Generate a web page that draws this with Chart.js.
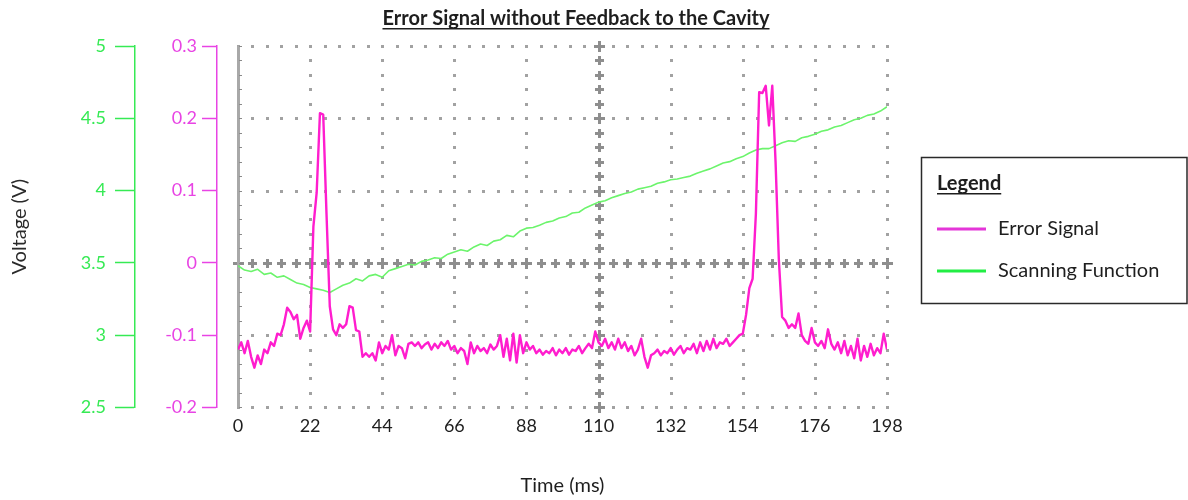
<!DOCTYPE html>
<html>
<head>
<meta charset="utf-8">
<title>Error Signal without Feedback to the Cavity</title>
<script src="https://cdn.jsdelivr.net/npm/chart.js@4.4.1/dist/chart.umd.min.js"></script>
<style>
  html, body { margin: 0; padding: 0; background: #fff; }
  #wrap { width: 1188px; height: 500px; }
</style>
</head>
<body>
<div id="wrap"><canvas id="scopeChart" width="1188" height="500"></canvas></div>
<script>
const FONT = 'Lato, "Open Sans", sans-serif';
const TITLE = 'Error Signal without Feedback to the Cavity';

// x axis (ms) and graticule ticks
const timeTicks = [0, 22, 44, 66, 88, 110, 132, 154, 176, 198];
const errorTicks = [-0.2, -0.1, 0, 0.1, 0.2, 0.3];
const scanTicks = [2.5, 3, 3.5, 4, 4.5, 5];

// error signal, sampled every 1 ms (0..198)
const errorTime = Array.from({ length: 199 }, (_, i) => i);
const errorSignal = [
  -0.12, -0.11, -0.125, -0.108, -0.13, -0.145, -0.128, -0.14, -0.12, -0.125,
  -0.11, -0.115, -0.098, -0.1, -0.085, -0.062, -0.068, -0.078, -0.072, -0.105,
  -0.09, -0.08, -0.095, 0.05, 0.097, 0.207, 0.205, 0.068, -0.06, -0.092,
  -0.1, -0.085, -0.09, -0.085, -0.06, -0.062, -0.093, -0.095, -0.13, -0.125,
  -0.13, -0.125, -0.135, -0.11, -0.125, -0.115, -0.12, -0.1, -0.128, -0.115,
  -0.118, -0.132, -0.112, -0.11, -0.115, -0.11, -0.118, -0.113, -0.11, -0.12,
  -0.112, -0.118, -0.11, -0.115, -0.108, -0.12, -0.115, -0.125, -0.118, -0.122,
  -0.14, -0.11, -0.125, -0.115, -0.122, -0.118, -0.125, -0.113, -0.12, -0.115,
  -0.1, -0.13, -0.105, -0.135, -0.098, -0.138, -0.1, -0.125, -0.11, -0.12,
  -0.115, -0.125, -0.12, -0.127, -0.122, -0.125, -0.118, -0.128, -0.12, -0.125,
  -0.118, -0.127, -0.12, -0.122, -0.115, -0.125, -0.118, -0.112, -0.118, -0.095,
  -0.11, -0.115, -0.105, -0.118, -0.11, -0.12, -0.105, -0.118, -0.11, -0.122,
  -0.115, -0.128, -0.12, -0.105, -0.13, -0.145, -0.128, -0.125, -0.12, -0.128,
  -0.122, -0.125, -0.118, -0.127, -0.12, -0.115, -0.125, -0.118, -0.12, -0.112,
  -0.125, -0.11, -0.122, -0.108, -0.12, -0.105, -0.118, -0.11, -0.112, -0.105,
  -0.115, -0.11, -0.105, -0.1, -0.098, -0.072, -0.035, -0.022, 0.068, 0.236,
  0.235, 0.245, 0.19, 0.245, 0.14, 0.005, -0.075, -0.08, -0.09, -0.085,
  -0.09, -0.07, -0.1, -0.108, -0.112, -0.09, -0.11, -0.115, -0.108, -0.118,
  -0.092, -0.112, -0.12, -0.11, -0.125, -0.108, -0.128, -0.115, -0.132, -0.105,
  -0.135, -0.115, -0.13, -0.112, -0.128, -0.118, -0.125, -0.098, -0.12
];

// scanning function, sampled every 2 ms (0..198)
const scanTime = Array.from({ length: 100 }, (_, i) => i * 2);
const scanFunction = [
  3.48, 3.45, 3.44, 3.455, 3.42, 3.43, 3.40, 3.41, 3.385, 3.36,
  3.35, 3.33, 3.32, 3.31, 3.295, 3.32, 3.345, 3.36, 3.39, 3.375,
  3.41, 3.42, 3.40, 3.445, 3.46, 3.475, 3.49, 3.485, 3.51, 3.52,
  3.535, 3.53, 3.56, 3.575, 3.59, 3.58, 3.61, 3.63, 3.62, 3.65,
  3.66, 3.69, 3.68, 3.72, 3.74, 3.745, 3.76, 3.78, 3.79, 3.81,
  3.82, 3.845, 3.85, 3.88, 3.90, 3.92, 3.93, 3.95, 3.965, 3.98,
  3.99, 4.01, 4.02, 4.03, 4.05, 4.06, 4.075, 4.08, 4.09, 4.10,
  4.12, 4.135, 4.15, 4.17, 4.19, 4.20, 4.22, 4.235, 4.26, 4.28,
  4.29, 4.29, 4.31, 4.33, 4.345, 4.34, 4.365, 4.375, 4.39, 4.41,
  4.42, 4.44, 4.45, 4.47, 4.49, 4.50, 4.52, 4.53, 4.55, 4.58
];

const PINK = '#ff1dce';
const PINK_AXIS = '#e844e4';
const GREEN = '#6cf46c';
const GREEN_AXIS = '#36ea54';
const INK = '#1e1e1e';

// scope style graticule: dotted major lines, crosses on the centre lines
const graticule = {
    id: 'graticule',
    beforeDatasetsDraw(chart) {
        const { ctx, chartArea: a, scales } = chart;
        const xs = timeTicks.map(v => scales.x.getPixelForValue(v));
        const ys = errorTicks.map(v => scales.yErr.getPixelForValue(v));
        const minor = (arr) => {
            const out = [];
            for (let i = 0; i < arr.length - 1; i++) {
                for (let k = 0; k < 5; k++) out.push(arr[i] + (arr[i + 1] - arr[i]) * k / 5);
            }
            out.push(arr[arr.length - 1]);
            return out;
        };
        const mx = minor(xs);
        const my = minor(ys);
        const cx = scales.x.getPixelForValue(110);
        const cy = scales.yErr.getPixelForValue(0);

        ctx.save();
        ctx.fillStyle = '#a2a2a2';
        const dot = (px, py) => ctx.fillRect(Math.round(px) - 1, Math.round(py) - 1, 3, 3);
        xs.forEach((px, i) => { if (i > 0 && px !== cx) my.forEach(py => dot(px, py)); });
        ys.forEach(py => { if (py !== cy) mx.forEach(px => dot(px, py)); });

        ctx.fillStyle = '#8e8e8e';
        const cross = (px, py, r) => {
            px = Math.round(px); py = Math.round(py);
            ctx.fillRect(px - r, py - 1, 2 * r + 1, 3);
            ctx.fillRect(px - 1, py - r, 3, 2 * r + 1);
        };
        mx.forEach(px => cross(px, cy, 4));
        my.forEach(py => cross(cx, py, 4));
        xs.forEach(px => cross(px, cy, 5));
        ys.forEach(py => cross(cx, py, 5));

        // solid left edge of the screen
        ctx.fillStyle = '#a8a8a8';
        ctx.fillRect(Math.round(xs[0]) - 1, a.top, 3, a.bottom - a.top);
        ctx.fillStyle = '#8a8a8a';
        my.forEach(py => ctx.fillRect(Math.round(xs[0]) + 1, Math.round(py), 3, 1));
        ctx.restore();
    }
};

// underlined title, boxed legend on the right
const annotations = {
    id: 'annotations',
    afterDraw(chart) {
        const { ctx } = chart;
        ctx.save();
        ctx.fillStyle = INK;
        ctx.textBaseline = 'alphabetic';

        ctx.font = `bold 20px ${FONT}`;
        ctx.textAlign = 'center';
        ctx.fillText(TITLE, 576, 25);
        const tw = ctx.measureText(TITLE).width;
        ctx.fillRect(576 - tw / 2, 28, tw, 1.5);

        ctx.strokeStyle = '#2a2a2a';
        ctx.lineWidth = 1.5;
        ctx.strokeRect(921.5, 157.5, 265.5, 146);

        ctx.textAlign = 'left';
        ctx.font = `bold 20px ${FONT}`;
        ctx.fillText('Legend', 937, 190);
        const lw = ctx.measureText('Legend').width;
        ctx.fillRect(937, 193, lw, 1.5);

        ctx.font = `20px ${FONT}`;
        ctx.textBaseline = 'middle';
        const rows = [229, 271];
        chart.data.datasets.forEach((ds, i) => {
            ctx.strokeStyle = ds.legendColor;
            ctx.lineWidth = 3;
            ctx.beginPath();
            ctx.moveTo(937, rows[i]);
            ctx.lineTo(986, rows[i]);
            ctx.stroke();
            ctx.fillStyle = INK;
            ctx.fillText(ds.label, 998, rows[i]);
        });
        ctx.restore();
    }
};

const ctx = document.getElementById('scopeChart').getContext('2d');

new Chart(ctx, {
    type: 'line',
    data: {
        datasets: [
            {
                label: 'Error Signal',
                data: errorTime.map((t, i) => ({ x: t, y: errorSignal[i] })),
                yAxisID: 'yErr',
                borderColor: PINK,
                legendColor: '#e435d8',
                borderWidth: 2.4,
                pointRadius: 0,
                tension: 0,
                borderJoinStyle: 'round',
                order: 1
            },
            {
                label: 'Scanning Function',
                data: scanTime.map((t, i) => ({ x: t, y: scanFunction[i] })),
                yAxisID: 'yScan',
                borderColor: GREEN,
                legendColor: '#22ee44',
                borderWidth: 1.6,
                pointRadius: 0,
                tension: 0,
                borderJoinStyle: 'round',
                order: 2
            }
        ]
    },
    options: {
        responsive: false,
        animation: false,
        events: [],
        layout: { padding: { left: 0, right: 301, top: 46, bottom: 2 } },
        plugins: {
            legend: { display: false },
            tooltip: { enabled: false },
            title: { display: false }
        },
        scales: {
            x: {
                type: 'linear',
                min: 0,
                max: 198,
                afterBuildTicks: s => { s.ticks = timeTicks.map(v => ({ value: v })); },
                grid: { display: false, drawTicks: false },
                border: { display: false },
                ticks: {
                    color: INK,
                    font: { family: FONT, size: 18 },
                    padding: 8,
                    maxRotation: 0
                },
                title: {
                    display: true,
                    text: 'Time (ms)',
                    color: INK,
                    font: { family: FONT, size: 20 },
                    padding: { top: 29, bottom: 0 }
                }
            },
            ySpacer: {
                type: 'linear',
                position: 'left',
                weight: 0,
                grid: { display: false },
                border: { display: false },
                ticks: { display: false },
                afterFit: s => { s.width = 21; }
            },
            yErr: {
                type: 'linear',
                position: 'left',
                weight: 1,
                min: -0.2,
                max: 0.3,
                afterBuildTicks: s => { s.ticks = errorTicks.map(v => ({ value: v })); },
                grid: {
                    drawOnChartArea: false,
                    drawTicks: true,
                    tickLength: 15,
                    tickColor: PINK_AXIS,
                    tickWidth: 1.5
                },
                border: { display: true, color: PINK_AXIS, width: 1.5 },
                ticks: {
                    color: PINK_AXIS,
                    font: { family: FONT, size: 18 },
                    padding: 5,
                    callback: v => String(v)
                },
                afterFit: s => { s.width = 82; }
            },
            yScan: {
                type: 'linear',
                position: 'left',
                weight: 2,
                min: 2.5,
                max: 5,
                afterBuildTicks: s => { s.ticks = scanTicks.map(v => ({ value: v })); },
                grid: {
                    drawOnChartArea: false,
                    drawTicks: true,
                    tickLength: 20,
                    tickColor: GREEN_AXIS,
                    tickWidth: 1.5
                },
                border: { display: true, color: GREEN_AXIS, width: 1.5 },
                ticks: {
                    color: GREEN_AXIS,
                    font: { family: FONT, size: 18 },
                    padding: 9,
                    callback: v => String(v)
                },
                title: {
                    display: true,
                    text: 'Voltage (V)',
                    color: '#2a2a2a',
                    font: { family: FONT, size: 20 },
                    padding: { top: 8, bottom: 0 }
                },
                afterFit: s => { s.width = 135; }
            }
        }
    },
    plugins: [graticule, annotations]
});
</script>
</body>
</html>
